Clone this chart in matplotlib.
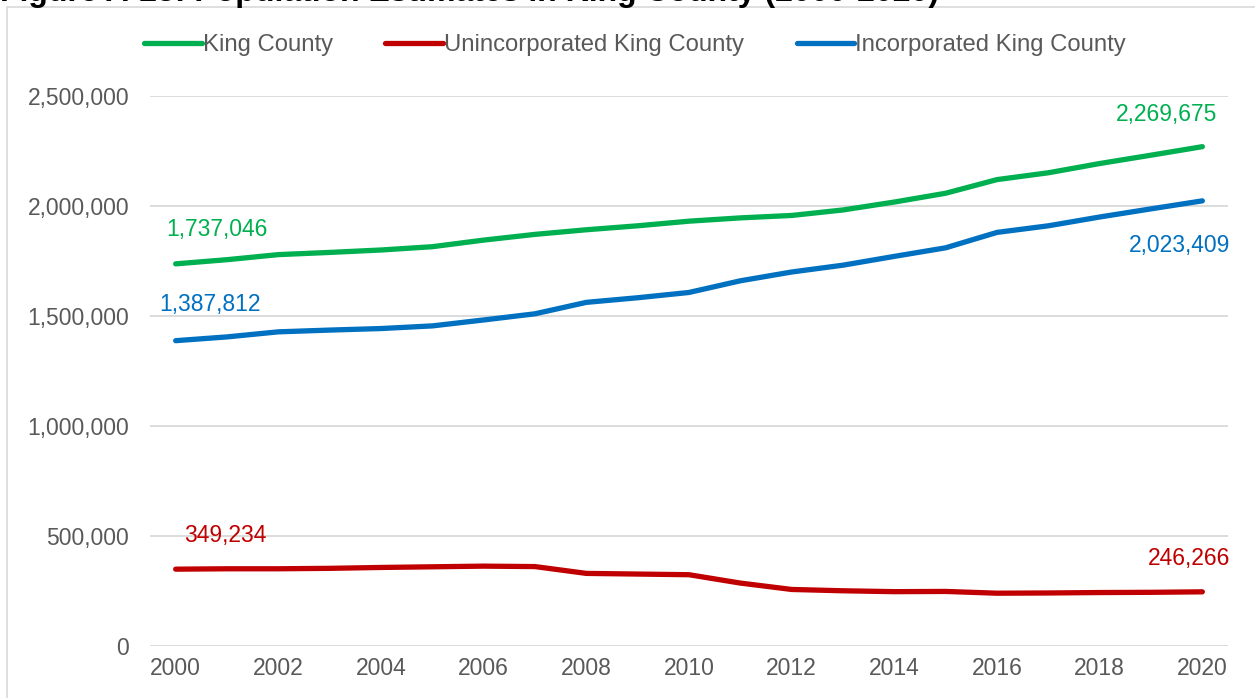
import matplotlib.pyplot as plt
from matplotlib.patches import Rectangle
from matplotlib.ticker import FuncFormatter

years = list(range(2000, 2021))
king = [1737046, 1756000, 1779000, 1789000, 1800000, 1815000, 1845000,
        1871000, 1892000, 1910000, 1931000, 1946000, 1957000, 1982000,
        2018000, 2058000, 2120000, 2151000, 2193000, 2231000, 2269675]
unincorporated = [349234, 351000, 351000, 353000, 357000, 360000, 363000,
                  361000, 330000, 327000, 324000, 286000, 257000, 251000,
                  247000, 248000, 240000, 241000, 243000, 244000, 246266]
incorporated = [1387812, 1405000, 1428000, 1436000, 1443000, 1455000, 1482000,
                1510000, 1562000, 1583000, 1607000, 1660000, 1700000, 1731000,
                1771000, 1810000, 1880000, 1910000, 1950000, 1987000, 2023409]
series_names = ["King County", "Unincorporated King County", "Incorporated King County"]
title = "Figure A-23: Population Estimates in King County (2000-2020)"

GREEN = "#00B050"
RED = "#C00000"
BLUE = "#0070C0"
GREY = "#595959"
FS = 16.5

plt.rcParams['font.family'] = ['Liberation Sans', 'DejaVu Sans']

W, H = 1255, 698
fig = plt.figure(figsize=(W / 100, H / 100), dpi=100)
ax = fig.add_axes([150 / W, (H - 646) / H, (1228 - 150) / W, (646 - 96) / H])

# outer chart frame
fig.patches.append(Rectangle((7 / W, -0.01), 1.0, (H - 7) / H + 0.01, transform=fig.transFigure,
                             fill=False, edgecolor="#D9D9D9", linewidth=1.2))
fig.text(0.0, 1 - 1 / H, title, fontsize=23, fontweight="bold", va="baseline", ha="left")

lines = []
for vals, col, name in [(king, GREEN, series_names[0]),
                        (unincorporated, RED, series_names[1]),
                        (incorporated, BLUE, series_names[2])]:
    ln, = ax.plot(years, vals, color=col, lw=3.8, solid_capstyle="round",
                  solid_joinstyle="round", label=name)
    lines.append(ln)

# data labels at first and last point (pixel offsets)
labels = [(king, GREEN, 0, (41, 34)), (incorporated, BLUE, 0, (34, 36)),
          (unincorporated, RED, 0, (50, 34)), (king, GREEN, -1, (-36, 32)),
          (incorporated, BLUE, -1, (-23, -45)), (unincorporated, RED, -1, (-13, 33))]
for vals, col, i, off in labels:
    ax.annotate(f"{vals[i]:,}", xy=(years[i], vals[i]), xytext=off, textcoords="offset pixels",
                ha="center", va="center", color=col, fontsize=FS)

ax.set_xlim(1999.5, 2020.5)
ax.set_ylim(0, 2500000)
ax.set_xticks(years[::2])
ax.set_yticks(range(0, 2500001, 500000))
ax.yaxis.set_major_formatter(FuncFormatter(lambda v, p: f"{int(v):,}"))
ax.tick_params(length=0, labelsize=FS, labelcolor=GREY)
ax.tick_params(axis="y", pad=15)
ax.tick_params(axis="x", pad=8)
ax.grid(axis="y", color="#D9D9D9", lw=1.3)
ax.set_axisbelow(True)
for s in ax.spines.values():
    s.set_visible(False)

fig.legend(handles=lines, loc="center", bbox_to_anchor=(635 / W, 1 - 45 / H), ncol=3,
           frameon=False, fontsize=17.2, labelcolor=GREY, handlelength=2.4,
           handletextpad=0.05, columnspacing=2.2)

fig.savefig("out.png", dpi=100)
